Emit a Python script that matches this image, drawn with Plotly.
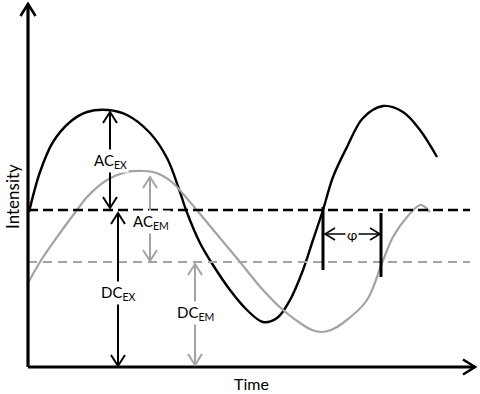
import plotly.graph_objects as go

# ---- data (time, intensity in arbitrary units) ----
ex_time = [1, 12, 25, 42, 59, 80, 99, 122, 139, 152, 158, 172, 185, 202, 219, 235,
           249, 262, 275, 285, 295, 305, 319, 335, 355, 375, 392, 409]
ex_int = [155, 195, 225, 245, 255, 257, 252, 234, 209, 175, 157, 124, 102, 77, 57, 45,
          49, 67, 97, 127, 157, 190, 220, 249, 261, 255, 237, 210]

em_time = [-1, 12, 32, 49, 59, 79, 99, 115, 125, 135, 145, 162, 182, 212, 235,
           255, 275, 284, 293, 303, 315, 339, 354, 365, 379, 392, 397, 402]
em_int = [82, 105, 134, 157, 170, 187, 195, 196, 195, 191, 184, 165, 141, 105, 77,
          57, 42, 37, 35, 37, 44, 67, 104, 130, 150, 162, 160, 155]

dc_ex = 157
dc_em = 105
peak_ex = 257
peak_em = 196
t_ac_ex, t_ac_em, t_dc_ex, t_dc_em = 82, 122, 90, 167
t_cross_ex, t_cross_em = 295, 353

axis_len_t = 447
axis_len_i = 363

FONT = "Lato, Open Sans, sans-serif"
GRAY = "#a3a3a3"

fig = go.Figure()
fig.add_trace(go.Scatter(x=ex_time, y=ex_int, mode="lines",
                         line=dict(color="black", width=2.4, shape="spline", smoothing=1.0),
                         hoverinfo="skip"))
fig.add_trace(go.Scatter(x=em_time, y=em_int, mode="lines",
                         line=dict(color=GRAY, width=2.2, shape="spline", smoothing=1.0),
                         hoverinfo="skip"))

shapes = []


def line(x0, y0, x1, y1, color, width, dash="solid"):
    shapes.append(dict(type="line", x0=x0, y0=y0, x1=x1, y1=y1, layer="above",
                       line=dict(color=color, width=width, dash=dash)))


def head(tx, ty, dx, dy, color, width, L=11, W=7):
    # open V arrow head with tip at (tx, ty) pointing along (dx, dy)
    n = (dx * dx + dy * dy) ** 0.5
    dx, dy = dx / n, dy / n
    px, py = -dy, dx
    ax, ay = tx - L * dx + W * px, ty - L * dy + W * py
    bx, by = tx - L * dx - W * px, ty - L * dy - W * py
    shapes.append(dict(type="path", layer="above",
                       path=f"M{ax},{ay} L{tx},{ty} L{bx},{by}",
                       line=dict(color=color, width=width)))


def arrow2(x, y0, y1, color, width):
    line(x, y0, x, y1, color, width)
    head(x, y1, 0, 1, color, width)
    head(x, y0, 0, -1, color, width)


# dashed DC levels
line(0, dc_ex, 442, dc_ex, "black", 2.6, dash="10px,5px")
line(0, dc_em, 442, dc_em, GRAY, 2.2, dash="9px,6px")

# axes
line(0, 0, axis_len_t, 0, "black", 3.2)
line(0, 0, 0, axis_len_i, "black", 3.2)
head(axis_len_t, 0, 1, 0, "black", 2.6, L=12, W=7.5)
head(0, axis_len_i, 0, 1, "black", 2.6, L=12, W=7.5)

# AC / DC arrows
arrow2(t_ac_ex, dc_ex + 2, peak_ex - 2, "black", 2)
arrow2(t_ac_em, dc_em + 1, peak_em - 6, GRAY, 2)
arrow2(t_dc_ex, 1, dc_ex - 3, "black", 2)
arrow2(t_dc_em, 2, dc_em - 2, GRAY, 2)

# phase markers
line(t_cross_ex, dc_ex + 3, t_cross_ex, dc_em - 8, "black", 3)
line(t_cross_em, dc_ex - 3, t_cross_em, dc_em - 15, "black", 3)
phi_y = 133
line(t_cross_ex + 2, phi_y, t_cross_em - 1, phi_y, "black", 1.5)
head(t_cross_ex + 2, phi_y, -1, 0, "black", 1.5, L=10, W=6)
head(t_cross_em - 1, phi_y, 1, 0, "black", 1.5, L=10, W=6)

annotations = []


def label(x, y, text, size=15, angle=0, bg="white", pad=1):
    annotations.append(dict(x=x, y=y, text=text, showarrow=False, textangle=angle,
                            font=dict(family=FONT, size=size, color="black"),
                            bgcolor=bg, borderpad=pad))


label(t_ac_ex, 206, "AC<sub>EX</sub>")
label(t_ac_em + 1, 145, "AC<sub>EM</sub>")
label(t_dc_ex, 74, "DC<sub>EX</sub>")
label(t_dc_em, 54, "DC<sub>EM</sub>")
label((t_cross_ex + t_cross_em) / 2, phi_y, "φ", size=14)
label(-16, 170, "Intensity", size=17, angle=-90, bg="rgba(0,0,0,0)", pad=0)
label(223, -16, "Time", size=16, bg="rgba(0,0,0,0)", pad=0)

fig.update_layout(
    width=480, height=394, autosize=False,
    margin=dict(l=0, r=0, t=0, b=0, pad=0),
    paper_bgcolor="white", plot_bgcolor="white",
    showlegend=False,
    xaxis=dict(range=[-28, 452], visible=False, fixedrange=True),
    yaxis=dict(range=[-27, 367], visible=False, fixedrange=True),
    shapes=shapes, annotations=annotations,
)

fig.write_html("out.html", config={"displayModeBar": False})
